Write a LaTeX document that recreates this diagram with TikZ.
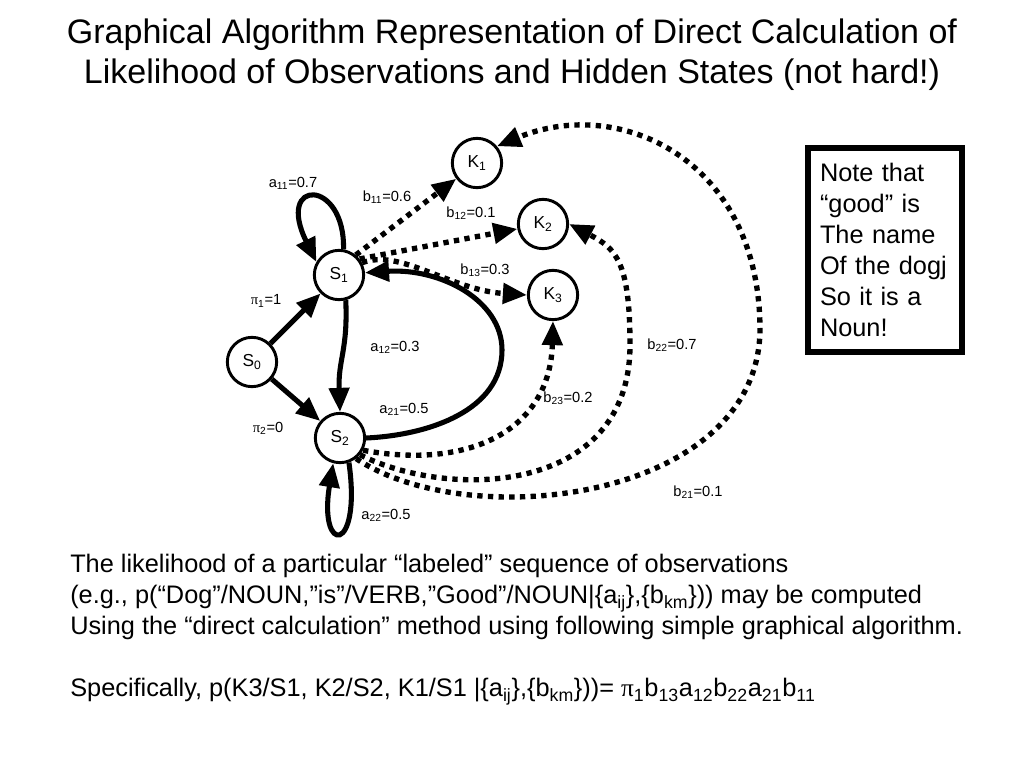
\documentclass[tikz,border=0pt]{standalone}
\usepackage{fontspec}
\setmainfont{Liberation Sans}
\newfontfamily\pifont{Liberation Serif}
\newcommand{\slidepi}{{\pifont π}}
\usetikzlibrary{arrows.meta}

\begin{document}
\begin{tikzpicture}[x=0.75pt,y=-0.75pt,
    state/.style={draw,circle,line width=2.2pt,minimum size=37pt,inner sep=0pt,
                  font=\fontsize{13}{15}\selectfont},
    trans/.style={line width=3.8pt,-{Triangle[length=18pt,width=15pt]}},
    emit/.style={line width=4pt,dash pattern=on 4pt off 4pt,
                 -{Triangle[length=18pt,width=15pt]}},
    lbl/.style={font=\fontsize{11}{13}\selectfont,inner sep=0pt},
    prose/.style={font=\fontsize{19}{23.25}\selectfont,align=left,inner sep=0pt}]
  \useasboundingbox (0,0) rectangle (1024,768);
  \node[align=center,font=\fontsize{25.5}{30}\selectfont] (title) at (512,55)
    {Graphical Algorithm Representation of Direct Calculation of\\
     Likelihood of Observations and Hidden States (not hard!)};
  \node[state] (K1) at (477,163) {K\textsubscript{1}};
  \node[state] (K2) at (543,224) {K\textsubscript{2}};
  \node[state] (K3) at (553,295) {K\textsubscript{3}};
  \node[state] (S1) at (339,275) {S\textsubscript{1}};
  \node[state] (S0) at (252,362) {S\textsubscript{0}};
  \node[state] (S2) at (340,438) {S\textsubscript{2}};
  \draw[trans] (S0) -- (S1);
  \draw[trans] (S0) -- (S2);
  \draw[trans] (S1.80) .. controls (345,178) and (275,178) .. (S1.150);
  \draw[trans] (S1.-75) .. controls (348,350) and (338,360) .. (S2.north);
  \draw[trans] (S2.east) .. controls (430,435) and (502,410) .. (502,350)
    .. controls (502,300) and (440,268) .. (S1.5);
  \draw[trans] (S2.-70) .. controls (362,555) and (318,555) .. (S2.-105);
  \draw[emit] (S1.50) -- (K1);
  \draw[emit] (S1.38) -- (K2);
  \draw[emit] (S1.28) .. controls (400,248) and (450,290) .. (K3.west);
  \draw[emit] (S2.-28) .. controls (470,470) and (550,430) .. (K3.south);
  \draw[emit] (S2.-40) .. controls (450,500) and (630,495) .. (630,345)
    .. controls (630,260) and (615,248) .. (K2.east);
  \draw[emit] (S2.-52) .. controls (470,535) and (758,500) .. (760,330)
    .. controls (760,160) and (620,95) .. (K1.40);
  \node[lbl] (la11) at (293,183) {a\textsubscript{11}=0.7};
  \node[lbl] (lb11) at (387,197) {b\textsubscript{11}=0.6};
  \node[lbl] (lb12) at (471,213) {b\textsubscript{12}=0.1};
  \node[lbl] (lb13) at (485,270) {b\textsubscript{13}=0.3};
  \node[lbl] (lpi1) at (266,301) {\slidepi\textsubscript{1}=1};
  \node[lbl] (la12) at (395,347) {a\textsubscript{12}=0.3};
  \node[lbl] (la21) at (404,409) {a\textsubscript{21}=0.5};
  \node[lbl] (lpi2) at (268,428) {\slidepi\textsubscript{2}=0};
  \node[lbl] (la22) at (386,515) {a\textsubscript{22}=0.5};
  \node[lbl] (lb23) at (568,398) {b\textsubscript{23}=0.2};
  \node[lbl] (lb22) at (672,345) {b\textsubscript{22}=0.7};
  \node[lbl] (lb21) at (698,492) {b\textsubscript{21}=0.1};
  \node[prose,draw,line width=4.5pt,minimum width=115.5pt,minimum height=153pt,
        text width=97.5pt] (note) at (885,250)
    {Note that\\ “good” is\\ The name\\ Of the dogj\\ So it is a\\ Noun!};
  \node[prose,anchor=west] (body) at (70,630)
    {The likelihood of a particular “labeled” sequence of observations\\
     (e.g., p(“Dog”/NOUN,”is”/VERB,”Good”/NOUN|\{a\textsubscript{ij}\},\{b\textsubscript{km}\})) may be computed\\
     Using the “direct calculation” method using following simple graphical algorithm.\\[23.25pt]
     Specifically, p(K3/S1, K2/S2, K1/S1 |\{a\textsubscript{ij}\},\{b\textsubscript{km}\}))= \slidepi\textsubscript{1}b\textsubscript{13}a\textsubscript{12}b\textsubscript{22}a\textsubscript{21}b\textsubscript{11}};
\end{tikzpicture}
\end{document}
